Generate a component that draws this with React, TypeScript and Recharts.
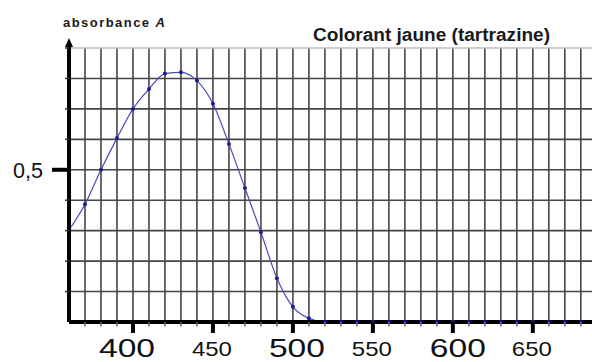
import React from 'react';
import { LineChart, Line, XAxis, YAxis, ReferenceLine, ReferenceDot } from 'recharts';

const wavelengths = [360, 370, 380, 390, 400, 410, 420, 430, 440, 450, 460, 470, 480, 490, 500, 510, 520, 530, 540, 550, 560, 570, 580, 590, 600, 610, 620, 630, 640, 650, 660, 670, 680];
const absorbance = [0.302, 0.387, 0.5, 0.604, 0.7, 0.765, 0.816, 0.82, 0.793, 0.717, 0.585, 0.44, 0.295, 0.144, 0.05, 0.012, 0, 0, 0, 0, 0, 0, 0, 0, 0, 0, 0, 0, 0, 0, 0, 0, 0];
const xGridTicks = [360, 370, 380, 390, 400, 410, 420, 430, 440, 450, 460, 470, 480, 490, 500, 510, 520, 530, 540, 550, 560, 570, 580, 590, 600, 610, 620, 630, 640, 650, 660, 670, 680];
const xLabelsBig = [400, 500, 600];
const xLabelsSmall = [450, 550, 650];
const yGridValues = [0.1, 0.2, 0.3, 0.4, 0.5, 0.6, 0.7, 0.8, 0.9];
const yTicks = [0, 0.1, 0.2, 0.3, 0.4, 0.5, 0.6, 0.7, 0.8, 0.9];
const yLabelValue = 0.5;
const yLabelText = '0,5';
const title = 'Colorant jaune (tartrazine)';
const yAxisTitle = 'absorbance ';
const yAxisSymbol = 'A';

const data = wavelengths.map((w, i) => ({ w, a: absorbance[i] }));

const FONT = '"Liberation Sans", Arial, sans-serif';
const bigLabelShift: Record<number, number> = { 400: -6, 500: 4, 600: 5 };

const XTick = (props: any) => {
  const { x, y, payload } = props;
  const v = payload.value;
  const major = v % 50 === 0;
  const big = xLabelsBig.includes(v);
  const small = xLabelsSmall.includes(v);
  return (
    <g>
      {v !== 360 && (
        <line x1={x} x2={x} y1={y} y2={y + (major ? 11 : 4.5)} stroke={major ? '#000' : '#666'} strokeWidth={major ? 4 : 1.5} />
      )}
      {big && (
        <text x={x + (bigLabelShift[v] || 0)} y={y + 35} textAnchor="middle" fontSize={26} fontFamily={FONT} fill="#111" textLength={56} lengthAdjust="spacingAndGlyphs">
          {v}
        </text>
      )}
      {small && (
        <text x={x - 1} y={y + 34} textAnchor="middle" fontSize={21} fontFamily={FONT} fill="#111" textLength={40} lengthAdjust="spacingAndGlyphs">
          {v}
        </text>
      )}
    </g>
  );
};

const YTick = (props: any) => {
  const { x, y, payload } = props;
  const v = payload.value;
  if (v === 0) return <g />;
  const isLabel = Math.abs(v - yLabelValue) < 1e-9;
  return (
    <g>
      {isLabel ? (
        <line x1={x - 17} x2={x} y1={y} y2={y} stroke="#000" strokeWidth={4} />
      ) : (
        <line x1={x - 4} x2={x} y1={y} y2={y} stroke="#333" strokeWidth={1.5} />
      )}
      {isLabel && (
        <text x={x - 26} y={y + 8.5} textAnchor="end" fontSize={22} fontFamily={FONT} fill="#111" textLength={30} lengthAdjust="spacingAndGlyphs">
          {yLabelText}
        </text>
      )}
    </g>
  );
};

const renderDot = (p: any) => {
  if (p.index === 0) return <g key={`d${p.index}`} />;
  return <circle key={`d${p.index}`} cx={p.cx} cy={p.cy} r={2} fill="#1a1a9a" stroke="none" />;
};

const Arrow = (p: any) => {
  const { cx, cy } = p;
  return (
    <g>
      <line x1={cx} x2={cx} y1={cy} y2={cy - 4} stroke="#000" strokeWidth={4} />
      <polygon points={`${cx - 4},${cy - 1} ${cx + 4},${cy - 1} ${cx},${cy - 10}`} fill="#000" />
    </g>
  );
};

export default function App() {
  return (
    <div style={{ position: 'absolute', left: 0, top: 0, width: 592, height: 362, background: '#fff' }}>
      <LineChart width={592} height={362} data={data} margin={{ top: 48, right: 0, bottom: 0, left: 0 }}>
        {xGridTicks.map((v) => (
          <ReferenceLine key={`vx${v}`} x={v} stroke="#454545" strokeWidth={1.6} />
        ))}
        {yGridValues.map((v) => (
          <ReferenceLine key={`hy${v}`} y={v} stroke={v === 0.9 ? '#bdbdbd' : '#454545'} strokeWidth={1.6} />
        ))}
        <XAxis
          dataKey="w"
          type="number"
          domain={[360, 687]}
          ticks={xGridTicks}
          interval={0}
          height={40}
          tickSize={0}
          tickMargin={0}
          tickLine={false}
          axisLine={{ stroke: '#000', strokeWidth: 4 }}
          tick={<XTick />}
        />
        <YAxis
          type="number"
          domain={[0, 0.9]}
          ticks={yTicks}
          interval={0}
          width={69}
          tickSize={0}
          tickMargin={0}
          tickLine={false}
          axisLine={{ stroke: '#000', strokeWidth: 4 }}
          tick={<YTick />}
        />
        <Line
          type="monotone"
          dataKey="a"
          stroke="#4a4ab8"
          strokeWidth={1.2}
          dot={renderDot}
          isAnimationActive={false}
        />
        <ReferenceDot x={360} y={0.9} ifOverflow="visible" shape={<Arrow />} />
      </LineChart>
      <svg width={592} height={362} style={{ position: 'absolute', left: 0, top: 0, pointerEvents: 'none' }}>
        <text x={313} y={41} fontSize={18} fontWeight="bold" fontFamily={FONT} fill="#1a1a1a" textLength={237} lengthAdjust="spacingAndGlyphs">
          {title}
        </text>
        <text x={63} y={26.5} fontSize={13} fontWeight="bold" fontFamily={FONT} fill="#1a1a1a" textLength={102}>
          {yAxisTitle}
          <tspan fontStyle="italic">{yAxisSymbol}</tspan>
        </text>
      </svg>
    </div>
  );
}
